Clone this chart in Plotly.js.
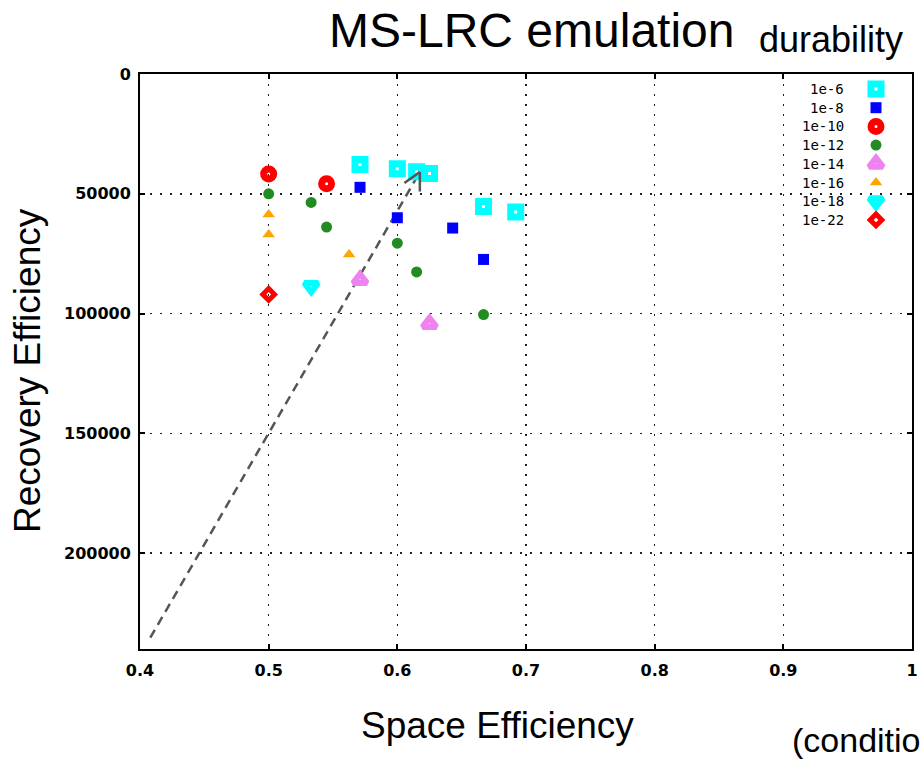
<!DOCTYPE html>
<html>
<head>
<meta charset="utf-8">
<script src="https://cdn.plot.ly/plotly-3.0.1.min.js"></script>
<style>
  html, body { margin: 0; padding: 0; background: #ffffff; }
  #chart { width: 921px; height: 764px; }
</style>
</head>
<body>
<div id="chart"></div>
<script>
// Durability levels, one series each
const seriesNames = ['1e-6', '1e-8', '1e-10', '1e-12', '1e-14', '1e-16', '1e-18', '1e-22'];

// Space efficiency (x) and recovery cost (y) for each durability level
const space_1e6  = [0.571, 0.600, 0.615, 0.625, 0.667, 0.692];
const recov_1e6  = [37800, 39600, 40800, 41500, 55300, 57600];
const space_1e8  = [0.571, 0.600, 0.643, 0.667];
const recov_1e8  = [47300, 60000, 64300, 77400];
const space_1e10 = [0.500, 0.545];
const recov_1e10 = [41700, 45800];
const space_1e12 = [0.500, 0.533, 0.545, 0.600, 0.615, 0.667];
const recov_1e12 = [50000, 53600, 63900, 70600, 82600, 100400];
const space_1e14 = [0.571, 0.625];
const recov_1e14 = [86000, 104300];
const space_1e16 = [0.500, 0.500, 0.5625];
const recov_1e16 = [58600, 67000, 75300];
const space_1e18 = [0.533];
const recov_1e18 = [88500];
const space_1e22 = [0.500];
const recov_1e22 = [92000];

// "Better" direction arrow, as [space, recovery] end points
const arrowFrom = [0.408, 235300];
const arrowTo   = [0.6175, 40900];

// Axis ranges (recovery axis runs downward)
const xRange = [0.4, 1.0];
const yRange = [240000, 0];

const seriesX = [space_1e6, space_1e8, space_1e10, space_1e12, space_1e14, space_1e16, space_1e18, space_1e22];
const seriesY = [recov_1e6, recov_1e8, recov_1e10, recov_1e12, recov_1e14, recov_1e16, recov_1e18, recov_1e22];

// Point styles in gnuplot fashion: thick outlines leave a small white centre
const styles = [
  { symbol: 'square-open',        color: '#00ffff', size: 10, lw: 7 },
  { symbol: 'square',             color: '#0000ff', size: 11, lw: 0 },
  { symbol: 'circle-open',        color: '#ff0000', size: 10, lw: 7 },
  { symbol: 'circle',             color: '#228b22', size: 11, lw: 0 },
  { symbol: 'triangle-up-open',   color: '#ee82ee', size: 12, lw: 6 },
  { symbol: 'triangle-up',        color: '#ffa500', size: 11, lw: 0 },
  { symbol: 'triangle-down-open', color: '#00ffff', size: 12, lw: 6 },
  { symbol: 'diamond-open',       color: '#ff0000', size: 9,  lw: 5 }
];

function markerOf(st) {
  return {
    symbol: st.symbol, color: st.color, size: st.size,
    line: { width: st.lw, color: st.color }
  };
}

// Page geometry of the plotting frame, in pixels
const W = 921, H = 764;
const M = { l: 140, r: 9, t: 74, b: 115 };
const plotW = W - M.l - M.r, plotH = H - M.t - M.b;
const px2x = px => (px - M.l) / plotW;
const py2y = py => (H - M.b - py) / plotH;

const traces = [];

// Dashed arrow shaft
traces.push({
  x: [arrowFrom[0], arrowTo[0]], y: [arrowFrom[1], arrowTo[1]],
  mode: 'lines', type: 'scatter', showlegend: false, hoverinfo: 'skip',
  line: { color: '#555555', width: 2.5, dash: '9px,6px' }
});

// Data points
seriesNames.forEach((name, i) => {
  traces.push({
    x: seriesX[i], y: seriesY[i], name: name,
    mode: 'markers', type: 'scatter', showlegend: false,
    marker: markerOf(styles[i])
  });
});

// Key in the top-right corner: right-aligned label followed by its point symbol
const keyTextRight = 846, keySymbolX = 876, keyRow0 = 89, keyRowStep = 18.7;
const annotations = [];
seriesNames.forEach((name, i) => {
  const rowY = py2y(keyRow0 + i * keyRowStep);
  annotations.push({
    xref: 'paper', yref: 'paper', x: px2x(keyTextRight), y: rowY,
    xanchor: 'right', yanchor: 'middle', showarrow: false, text: name,
    font: { family: 'DejaVu Sans Mono', size: 14, color: '#000000' }
  });
  traces.push({
    x: [px2x(keySymbolX)], y: [rowY], xaxis: 'x2', yaxis: 'y2',
    mode: 'markers', type: 'scatter', showlegend: false, hoverinfo: 'skip',
    marker: markerOf(styles[i])
  });
});

// Arrow head: two short strokes meeting at the arrow tip
[[-17, 12], [0, 21]].forEach(off => {
  annotations.push({
    x: arrowTo[0], y: arrowTo[1], xref: 'x', yref: 'y',
    ax: off[0], ay: off[1], text: '', showarrow: true,
    arrowhead: 0, arrowwidth: 2.5, arrowcolor: '#555555', standoff: 0, startstandoff: 0
  });
});

const bigFont = { family: 'Liberation Sans, Arial, sans-serif', color: '#000000' };

annotations.push({
  xref: 'paper', yref: 'paper', x: px2x(831), y: py2y(40),
  xanchor: 'center', yanchor: 'middle', showarrow: false, text: 'durability',
  font: Object.assign({ size: 36 }, bigFont)
});
annotations.push({
  xref: 'paper', yref: 'paper', x: px2x(790), y: py2y(740),
  xanchor: 'left', yanchor: 'middle', showarrow: false, text: '(conditio',
  font: Object.assign({ size: 34 }, bigFont)
});
annotations.push({
  xref: 'paper', yref: 'paper', x: px2x(497), y: py2y(725),
  xanchor: 'center', yanchor: 'middle', showarrow: false, text: 'Space Efficiency',
  font: Object.assign({ size: 37 }, bigFont)
});
annotations.push({
  xref: 'paper', yref: 'paper', x: px2x(27), y: py2y(371),
  xanchor: 'center', yanchor: 'middle', showarrow: false, text: 'Recovery Efficiency',
  textangle: -90,
  font: Object.assign({ size: 37 }, bigFont)
});

const tickFont = { family: 'DejaVu Sans', size: 16, color: '#000000', weight: 'bold' };
const gridDots = '1.5px,8.5px';

const layout = {
  width: W, height: H,
  margin: { l: M.l, r: M.r, t: M.t, b: M.b, pad: 0 },
  paper_bgcolor: '#ffffff', plot_bgcolor: '#ffffff',
  showlegend: false,
  title: {
    text: 'MS-LRC emulation',
    font: { family: 'Liberation Sans, Arial, sans-serif', size: 48, color: '#000000' },
    xref: 'container', yref: 'container',
    x: 329 / W, xanchor: 'left',
    y: 1 - 30 / H, yanchor: 'middle'
  },
  xaxis: {
    range: xRange, tick0: 0.4, dtick: 0.1,
    showline: true, linewidth: 2, linecolor: '#000000', mirror: 'ticks',
    ticks: 'inside', ticklen: 5, tickwidth: 2, tickcolor: '#000000',
    showgrid: true, gridcolor: '#222222', gridwidth: 1.5, griddash: gridDots,
    zeroline: false, tickfont: tickFont, ticklabelstandoff: 6
  },
  yaxis: {
    range: yRange, tick0: 0, dtick: 50000, tickformat: 'd',
    showline: true, linewidth: 2, linecolor: '#000000', mirror: 'ticks',
    ticks: 'inside', ticklen: 5, tickwidth: 2, tickcolor: '#000000',
    showgrid: true, gridcolor: '#222222', gridwidth: 1.5, griddash: gridDots,
    zeroline: false, tickfont: tickFont, ticklabelstandoff: 4
  },
  xaxis2: { overlaying: 'x', range: [0, 1], visible: false, fixedrange: true },
  yaxis2: { overlaying: 'y', range: [0, 1], visible: false, fixedrange: true },
  annotations: annotations
};

Plotly.newPlot('chart', traces, layout, { displayModeBar: false, staticPlot: true });
</script>
</body>
</html>
